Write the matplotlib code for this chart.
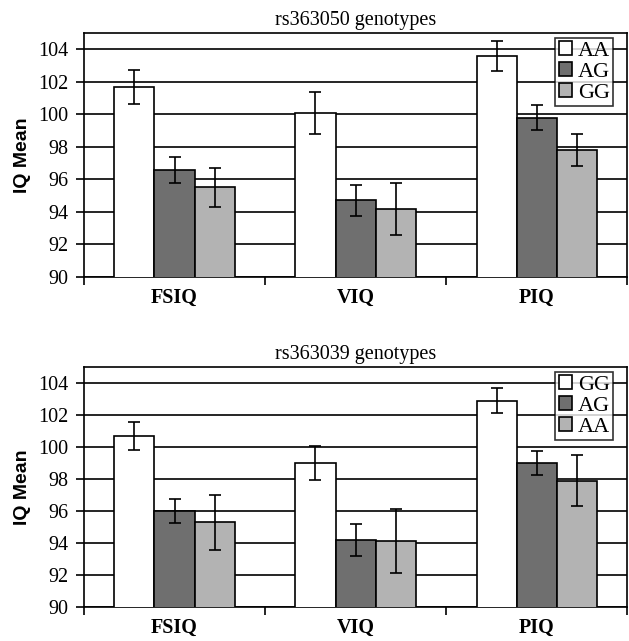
import matplotlib.pyplot as plt
import numpy as np

# data
categories = ['FSIQ', 'VIQ', 'PIQ']

title_1 = 'rs363050 genotypes'
genotypes_1 = ['AA', 'AG', 'GG']
means_1 = [[101.7, 96.6, 95.5],   # FSIQ
           [100.1, 94.7, 94.2],   # VIQ
           [103.6, 99.8, 97.8]]   # PIQ
errs_1 = [[1.05, 0.8, 1.22],
          [1.3, 0.95, 1.6],
          [0.93, 0.77, 1.0]]

title_2 = 'rs363039 genotypes'
genotypes_2 = ['GG', 'AG', 'AA']
means_2 = [[100.7, 96.0, 95.3],
           [99.0, 94.2, 94.1],
           [102.9, 99.0, 97.9]]
errs_2 = [[0.87, 0.76, 1.72],
          [1.08, 1.0, 2.0],
          [0.79, 0.74, 1.58]]

yticks = [90, 92, 94, 96, 98, 100, 102, 104]

colors = ['#ffffff', '#6f6f6f', '#b3b3b3']
serif = ['Liberation Serif', 'DejaVu Serif']
sans = ['Liberation Sans', 'DejaVu Sans']

fig = plt.figure(figsize=(6.29, 6.41), dpi=100)
ax1 = fig.add_axes([0.1335, 0.568, 0.864, 0.3805])
ax2 = fig.add_axes([0.1335, 0.053, 0.864, 0.3745])


def draw_panel(ax, title, genotypes, means, errs):
    x = np.arange(len(categories))
    w = 0.222
    m = np.array(means)
    e = np.array(errs)
    for i, g in enumerate(genotypes):
        ax.bar(x + (i - 1) * w, m[:, i], w, bottom=0, color=colors[i],
               edgecolor='black', linewidth=1.2, label=g, zorder=3)
        ax.errorbar(x + (i - 1) * w, m[:, i], yerr=e[:, i], fmt='none',
                    ecolor='black', elinewidth=1.2, capsize=4, capthick=1.2, zorder=4)
    ax.set_ylim(90, 105)
    ax.set_xlim(-0.5, 2.5)
    ax.set_yticks(yticks)
    ax.set_yticklabels([str(t) for t in yticks], family=serif, fontsize=14.5)
    ax.set_xticks([-0.5, 0.5, 1.5, 2.5])
    ax.set_xticklabels([])
    ax.tick_params(axis='x', direction='out', length=6, width=1.2)
    ax.tick_params(axis='y', direction='out', length=6, width=1.2, pad=5)
    for xi, c in zip(x, categories):
        ax.text(xi, 89.3, c, ha='center', va='top', family=serif,
                fontweight='bold', fontsize=14.5)
    ax.yaxis.grid(True, color='black', linewidth=1.2, zorder=0)
    ax.set_axisbelow(True)
    for s in ax.spines.values():
        s.set_linewidth(1.2)
    ax.set_ylabel('IQ Mean', family=sans, fontweight='bold', fontsize=14, labelpad=5)
    ax.set_title(title, family=serif, fontsize=14.5, pad=6)
    leg = ax.legend(loc='upper right', bbox_to_anchor=(0.974, 0.98),
                    prop={'family': serif, 'size': 16}, frameon=True, fancybox=False,
                    edgecolor='black', handlelength=0.6, handleheight=0.6,
                    handletextpad=0.25, borderpad=0.15, labelspacing=0.05, borderaxespad=0)
    leg.get_frame().set_linewidth(1.2)
    leg.set_zorder(5)


draw_panel(ax1, title_1, genotypes_1, means_1, errs_1)
draw_panel(ax2, title_2, genotypes_2, means_2, errs_2)

fig.savefig('out.png', dpi=100)
